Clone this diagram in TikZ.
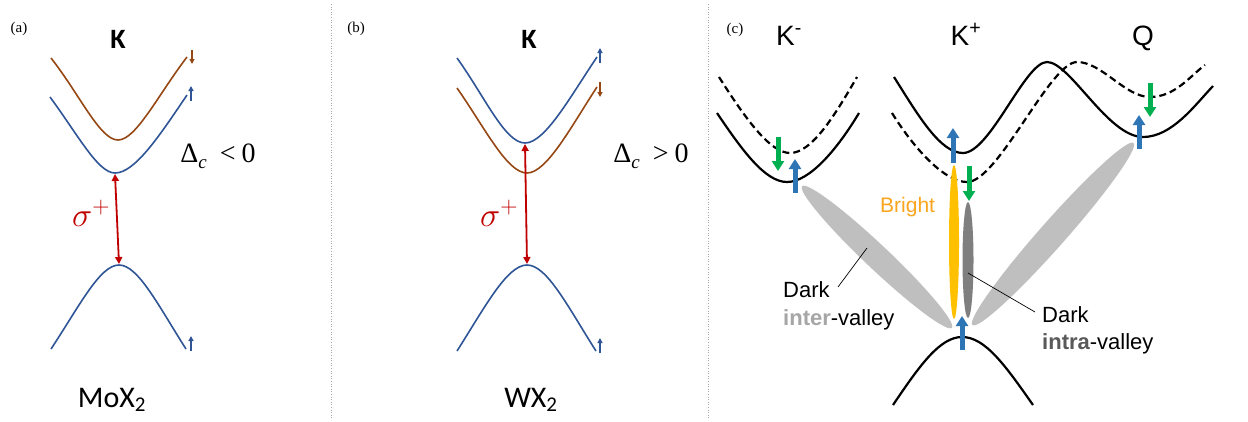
\RequirePackage{fix-cm}
\documentclass[tikz,border=0pt]{standalone}
\usepackage{fontspec}
\setmainfont{Carlito}
\newfontfamily\arialf{Liberation Sans}
\newfontfamily\serf{Liberation Serif}
\usetikzlibrary{arrows.meta,shapes.geometric}
\definecolor{bandblue}{RGB}{47,85,151}
\definecolor{bandbrown}{RGB}{150,72,20}
\definecolor{redarr}{RGB}{192,0,0}
\definecolor{spinblue}{RGB}{46,117,182}
\definecolor{spingreen}{RGB}{0,176,80}
\definecolor{brightfill}{RGB}{255,192,0}
\definecolor{brighttext}{RGB}{250,165,30}
\definecolor{lightex}{RGB}{191,191,191}
\definecolor{darkex}{RGB}{127,127,127}
\definecolor{intertext}{RGB}{166,166,166}
\definecolor{intratext}{RGB}{89,89,89}
\newcommand{\gapcond}[1]{Δ\raisebox{-0.22em}{\fontsize{19}{20}\selectfont\itshape c}\hspace{13pt}#1\hspace{6pt}0}
\begin{document}
\begin{tikzpicture}[x=1pt,y=-1pt,
  band/.style={line width=1.6pt},
  cband/.style={line width=2.2pt, black},
  dband/.style={line width=2.2pt, black, dash pattern=on 7pt off 4pt},
  sepline/.style={gray!70, line width=0.6pt, dotted},
  plabel/.style={anchor=base, inner sep=0, font=\serf\fontsize{15}{17}\selectfont},
  kbold/.style={anchor=base, inner sep=0, font=\bfseries\fontsize{28}{30}\selectfont},
  matlabel/.style={anchor=base, inner sep=0, font=\fontsize{30}{32}\selectfont},
  deltalabel/.style={anchor=base, inner sep=0, font=\serf\fontsize{28}{30}\selectfont},
  sigmalabel/.style={anchor=base, inner sep=0, text=redarr, font=\fontsize{34}{38}\selectfont},
  optarrow/.style={redarr, line width=1.8pt, {Triangle[width=7pt,length=7pt]}-{Triangle[width=7pt,length=7pt]}},
  smallblue/.style={bandblue, line width=1.6pt, -{Triangle[width=5pt,length=5pt]}},
  smallbrown/.style={bandbrown, line width=1.6pt, -{Triangle[width=5pt,length=5pt]}},
  spinup/.style={spinblue, line width=5pt, -{Triangle[width=12pt,length=10pt]}},
  spindown/.style={spingreen, line width=5pt, -{Triangle[width=12pt,length=10pt]}},
  valleylabel/.style={anchor=base, inner sep=0, font=\arialf\fontsize{28}{30}\selectfont},
  clabel/.style={anchor=base west, inner sep=0, font=\arialf\fontsize{22}{24}\selectfont},
  exciton/.style={ellipse, inner sep=0, draw=none},
  leader/.style={black, line width=0.7pt}
]
\path[fill=white, use as bounding box] (0,0) rectangle (1248,421);

% separators
\draw[sepline] (331,4) -- (331,418);
\draw[sepline] (708,4) -- (708,418);

% ---------------- panel (a)
\node[plabel] (la) at (19,32) {(a)};
\node[kbold] (Ka) at (118,48) {K};
\draw[bandbrown, band] (51,58) .. controls (80,95) and (100,140) .. (118,140) .. controls (136,140) and (158,95) .. (187,57);
\draw[bandblue, band] (50,97) .. controls (78,135) and (98,173) .. (115,173) .. controls (135,173) and (160,135) .. (187,95);
\draw[bandblue, band] (51,349) .. controls (80,305) and (100,265) .. (119,265) .. controls (138,265) and (158,305) .. (186,349);
\coordinate (cbmA) at (115,174);
\coordinate (vbmA) at (119,264);
\draw[optarrow] (vbmA) -- (cbmA);
\node[sigmalabel] (sA) at (91,226) {$\sigma^+$};
\node[deltalabel] (dA) at (218,162) {\gapcond{<}};
\node[matlabel] (mA) at (112,407) {MoX\textsubscript{2}};
\coordinate (a1s) at (192,50); \coordinate (a1e) at (192,64);
\draw[smallbrown] (a1s) -- (a1e);
\coordinate (a2s) at (191,101); \coordinate (a2e) at (191,86);
\draw[smallblue] (a2s) -- (a2e);
\coordinate (a3s) at (191,351); \coordinate (a3e) at (191,336);
\draw[smallblue] (a3s) -- (a3e);

% ---------------- panel (b)
\node[plabel] (lb) at (356,32) {(b)};
\node[kbold] (Kb) at (529,48) {K};
\draw[bandblue, band] (457,58) .. controls (485,97) and (505,143) .. (525,143) .. controls (545,143) and (570,97) .. (597,57);
\draw[bandbrown, band] (457,88) .. controls (485,128) and (507,173) .. (527,173) .. controls (547,173) and (572,125) .. (597,87);
\draw[bandblue, band] (457,351) .. controls (485,307) and (507,265) .. (527,265) .. controls (547,265) and (568,307) .. (596,351);
\coordinate (cbmB) at (525,144);
\coordinate (vbmB) at (527,264);
\draw[optarrow] (vbmB) -- (cbmB);
\node[sigmalabel] (sB) at (499,226) {$\sigma^+$};
\node[deltalabel] (dB) at (651,162) {\gapcond{>}};
\node[matlabel] (mB) at (531,407) {WX\textsubscript{2}};
\coordinate (b1s) at (600,63); \coordinate (b1e) at (600,48);
\draw[smallblue] (b1s) -- (b1e);
\coordinate (b2s) at (600,82); \coordinate (b2e) at (600,97);
\draw[smallbrown] (b2s) -- (b2e);
\coordinate (b3s) at (600,353); \coordinate (b3e) at (600,338);
\draw[smallblue] (b3s) -- (b3e);

% ---------------- panel (c)
\node[plabel] (lc) at (735,33) {(c)};
\node[valleylabel] (Km) at (789,45) {K\textsuperscript{-}};
\node[valleylabel] (Kp) at (966,45) {K\textsuperscript{+}};
\node[valleylabel] (Qv) at (1143,45) {Q};

% K- valley
\draw[dband] (719,77) .. controls (745,118) and (770,153) .. (790,153) .. controls (812,153) and (835,115) .. (857,77);
\draw[cband] (717,113) .. controls (742,150) and (765,182) .. (787,182) .. controls (810,182) and (838,148) .. (859,113);
% K+ / Q
\draw[cband] (894,77) .. controls (918,115) and (940,153) .. (963,153) .. controls (990,153) and (1025,62) .. (1047,62) .. controls (1070,62) and (1108,137) .. (1143,137) .. controls (1172,137) and (1195,105) .. (1213,86);
\draw[dband] (892,113) .. controls (915,150) and (945,182) .. (967,182) .. controls (998,182) and (1050,62) .. (1077,62) .. controls (1102,62) and (1125,97) .. (1150,97) .. controls (1175,97) and (1190,76) .. (1205,65);
% valence
\draw[cband] (893,405) .. controls (920,365) and (940,337) .. (962,337) .. controls (985,337) and (1005,365) .. (1033,405);

% excitons
\node[exciton, fill=lightex, minimum width=206pt, minimum height=24pt, rotate=-43.4] (interL) at (877,257) {};
\node[exciton, fill=lightex, minimum width=243pt, minimum height=26pt, rotate=48.5] (interR) at (1053,234) {};
\node[exciton, fill=brightfill, minimum width=10pt, minimum height=154pt] (brightX) at (954,242) {};
\node[exciton, fill=darkex, minimum width=11pt, minimum height=116pt] (intraX) at (968,260) {};

% spins
\coordinate (g1s) at (778,137); \coordinate (g1e) at (778,171);
\draw[spindown] (g1s) -- (g1e);
\coordinate (u1s) at (795,193); \coordinate (u1e) at (795,159);
\draw[spinup] (u1s) -- (u1e);
\coordinate (u2s) at (953,163); \coordinate (u2e) at (953,128);
\draw[spinup] (u2s) -- (u2e);
\coordinate (g2s) at (969,166); \coordinate (g2e) at (969,201);
\draw[spindown] (g2s) -- (g2e);
\coordinate (u3s) at (1139,149); \coordinate (u3e) at (1139,115);
\draw[spinup] (u3s) -- (u3e);
\coordinate (g3s) at (1150,83); \coordinate (g3e) at (1150,117);
\draw[spindown] (g3s) -- (g3e);
\coordinate (u4s) at (962,350); \coordinate (u4e) at (962,316);
\draw[spinup] (u4s) -- (u4e);

% labels
\node[clabel, text=brighttext, font=\arialf\fontsize{21}{24}\selectfont] (lBright) at (880,212) {Bright};
\node[clabel] (lDarkL) at (783,297) {Dark};
\node[clabel] (lInter) at (783,325) {\textcolor{intertext}{\bfseries inter}-valley};
\node[clabel] (lDarkR) at (1042,322) {Dark};
\node[clabel] (lIntra) at (1042,349) {\textcolor{intratext}{\bfseries intra}-valley};
\coordinate (pinL) at (867,248);
\coordinate (tailL) at (838,287);
\draw[leader] (tailL) -- (pinL);
\coordinate (pinR) at (968,273);
\coordinate (tailR) at (1035,312);
\draw[leader] (pinR) -- (tailR);
\end{tikzpicture}
\end{document}
